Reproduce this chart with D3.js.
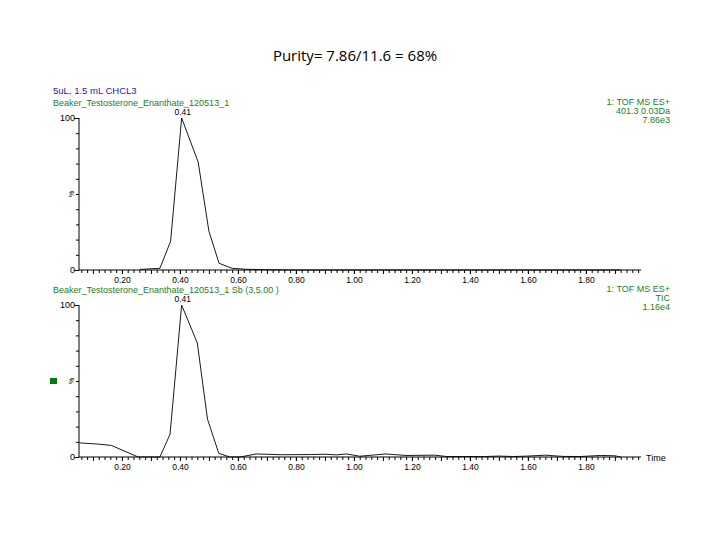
<!DOCTYPE html>
<html>
<head>
<meta charset="utf-8">
<script src="https://cdn.jsdelivr.net/npm/d3@7"></script>
<style>
  body { margin: 0; background: #fff; }
  svg text { font-family: "Liberation Sans", Arial, sans-serif; }
</style>
</head>
<body>
<svg id="chart" width="723" height="552"></svg>
<script>
// retention time (min) and relative intensity (%)
const topTimes = [0.262, 0.331, 0.368, 0.406, 0.463, 0.500, 0.535, 0.580, 0.625, 0.700, 0.800, 1.000, 1.400, 1.920];
const topValues = [0.4, 1.1, 19, 100, 71, 25.5, 4.4, 1.1, 0.5, 0.2, 0, 0, 0, 0];

const ticTimes = [0.053, 0.118, 0.164, 0.256, 0.331, 0.366, 0.406, 0.460, 0.495, 0.534, 0.572, 0.607, 0.664,
    0.750, 0.850, 0.900, 0.940, 0.975, 1.020, 1.110, 1.180, 1.280, 1.320, 1.450, 1.500, 1.550, 1.600, 1.660,
    1.720, 1.780, 1.850, 1.900, 1.920];
const ticValues = [9.3, 8.5, 7.6, 0, 0, 15, 100, 75, 25, 2.4, 0, 0, 2,
    1.5, 1.6, 1.8, 1.4, 2, 0.5, 2, 1, 1.2, 0.3, 0.3, 0.6, 0.3, 0.6, 1.2,
    0.4, 0.3, 1, 0.8, 0];

const timeTicks = [0.2, 0.4, 0.6, 0.8, 1.0, 1.2, 1.4, 1.6, 1.8];
const timeRange = [0.052, 1.99];
const peakTime = 0.41;

const title = "Purity= 7.86/11.6 = 68%";
const sampleLine = "5uL, 1.5 mL CHCL3";
const topName = "Beaker_Testosterone_Enanthate_120513_1";
const botName = "Beaker_Testosterone_Enanthate_120513_1 Sb (3,5.00 )";
const topInfo = ["1: TOF MS ES+", "401.3 0.03Da", "7.86e3"];
const botInfo = ["1: TOF MS ES+", "TIC", "1.16e4"];

const svg = d3.select("#chart");
const blue = "#2323b4";
const green = "#1d801d";

const x = d3.scaleLinear().domain(timeRange).range([79, 641]);

svg.append("text")
    .attr("x", 355).attr("y", 61)
    .attr("text-anchor", "middle")
    .style("font-family", "'Open Sans', sans-serif")
    .attr("font-size", 15)
    .text(title);

svg.append("text")
    .attr("x", 53).attr("y", 94)
    .attr("font-size", 9.5).attr("fill", blue)
    .text(sampleLine);

function panel(times, values, name, info, top, bottom, showTime, marker) {
    const y = d3.scaleLinear().domain([0, 100]).range([bottom, top]);
    const g = svg.append("g");

    g.append("text")
        .attr("x", 53).attr("y", top - 12)
        .attr("font-size", 9).attr("fill", green)
        .text(name);

    info.forEach((t, i) => {
        g.append("text")
            .attr("x", 670).attr("y", top - 13 + i * 9)
            .attr("text-anchor", "end")
            .attr("font-size", 9).attr("fill", green)
            .text(t);
    });

    // y axis: minor ticks every 10%, labels at 0 and 100
    const ya = g.append("g").attr("transform", `translate(${x.range()[0]},0)`)
        .call(d3.axisLeft(y).tickValues(d3.range(0, 101, 10)).tickSize(3).tickFormat(""));
    ya.select(".domain").attr("d", `M0,${bottom}V${top}`);
    ya.selectAll(".tick line").attr("x2", (d) => (d === 0 || d === 100 ? -5 : -3));
    [0, 100].forEach((v) => {
        g.append("text")
            .attr("x", x.range()[0] - 4).attr("y", y(v) + 3)
            .attr("text-anchor", "end")
            .attr("font-size", 9)
            .text(v);
    });
    g.append("text")
        .attr("transform", `translate(${x.range()[0] - 5},${y(50)}) rotate(-90)`)
        .attr("text-anchor", "middle")
        .attr("font-size", 7)
        .text("%");

    // x axis: minor ticks every 0.02, labelled every 0.2
    const minor = d3.range(0.06, 1.99, 0.02).map((d) => +d.toFixed(2));
    const xm = g.append("g").attr("transform", `translate(0,${bottom})`)
        .call(d3.axisBottom(x).tickValues(minor).tickSize(3).tickFormat(""));
    xm.select(".domain").attr("d", `M${x.range()[0]},0H${x.range()[1]}`);
    xm.selectAll(".tick line").attr("y2", (d) => (Math.abs(d * 10 - Math.round(d * 10)) < 1e-6 ? 4 : 3));
    const xl = g.append("g").attr("transform", `translate(0,${bottom})`)
        .call(d3.axisBottom(x).tickValues(timeTicks).tickSize(4).tickPadding(3).tickFormat(d3.format(".2f")));
    xl.select(".domain").remove();
    xl.selectAll("text").attr("font-size", 8.5).attr("font-family", "'Liberation Sans', Arial, sans-serif");

    if (showTime) {
        g.append("text")
            .attr("x", x.range()[1] + 5).attr("y", bottom + 4)
            .attr("font-size", 9)
            .text("Time");
    }

    const line = d3.line().x((d) => x(d[0])).y((d) => y(d[1]));
    g.append("path")
        .datum(d3.zip(times, values))
        .attr("d", line)
        .attr("fill", "none")
        .attr("stroke", "#000")
        .attr("stroke-width", 0.9);

    g.append("text")
        .attr("x", x(peakTime)).attr("y", top - 3)
        .attr("text-anchor", "middle")
        .attr("font-size", 8.5)
        .text(peakTime.toFixed(2));

    if (marker) {
        g.append("rect")
            .attr("x", 50).attr("y", y(50) - 3)
            .attr("width", 7).attr("height", 6)
            .attr("fill", "#0a7a0a");
    }
}

panel(topTimes, topValues, topName, topInfo, 118, 270, false, false);
panel(ticTimes, ticValues, botName, botInfo, 305, 457, true, true);
</script>
</body>
</html>
